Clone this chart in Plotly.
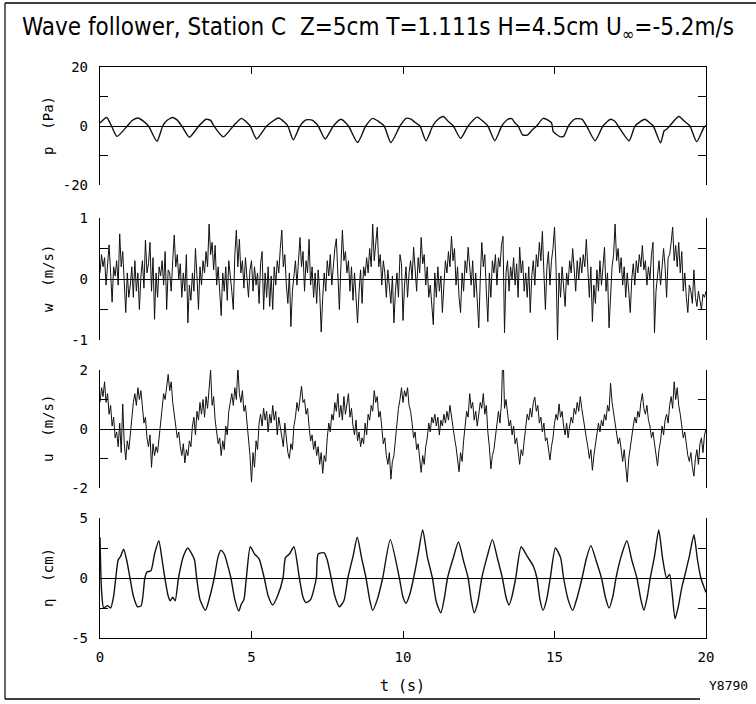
import plotly.graph_objects as go

# ---------------- data ----------------
p_t = [0.0,0.22,0.38,0.56,0.9,1.05,1.25,1.45,1.6,1.88,2.07,2.2,2.4,2.55,2.7,2.95,3.26,3.5,3.65,3.76,
       4.07,4.4,4.67,4.85,4.96,5.17,5.5,5.89,6.1,6.2,6.38,6.6,6.8,7.0,7.2,7.43,7.7,7.95,8.2,8.5,
       8.77,9.0,9.2,9.38,9.6,9.9,10.1,10.25,10.4,10.56,10.76,10.98,11.15,11.33,11.5,11.66,11.9,12.15,12.45,12.65,
       12.8,13.03,13.26,13.45,13.59,13.7,13.8,13.95,14.1,14.25,14.41,14.63,14.9,14.96,15.18,15.3,15.46,15.68,15.9,16.06,
       16.34,16.6,16.85,17.0,17.1,17.46,17.66,17.98,18.15,18.26,18.5,18.62,18.7,18.8,19.1,19.3,19.47,19.69,19.93,20.0]
p_val = [1.0,2.9,0,-3.5,0,1.8,2.7,1.5,0,-5.2,0,1.8,2.9,2.0,0,-3.8,0,2.3,1.9,0,
         -3.7,0,2.6,1.2,0,-4.4,0,2.7,1.2,0,-4.7,0,2.1,2.0,0,-4.4,0,2.3,0,-5.6,
         0,2.6,1.5,0,-5.6,0,2.6,2.4,1.2,0,-5.0,0,2.2,3.2,1.5,0,-4.2,0,3.0,1.5,
         0,-5.0,0,2.2,2.5,1.0,0,-3.0,-3.1,-1.5,0,2.6,1.1,-1.9,-3.6,-3.5,0,2.4,2.3,0,
         -5.0,0,2.3,1.5,0,-5.0,0,2.3,1.0,0,-5.7,-1.6,-1.1,0,3.2,1.5,0,-5.3,-0.5,0.2]

eta_t = [0.0,0.05,0.12,0.25,0.35,0.45,0.52,0.6,0.68,0.78,0.88,0.99,1.1,1.24,1.36,1.48,1.55,1.68,1.8,1.94,
         2.05,2.14,2.25,2.32,2.4,2.48,2.59,2.75,2.9,3.05,3.12,3.19,3.3,3.48,3.62,3.77,3.9,3.99,4.1,4.2,
         4.32,4.45,4.58,4.66,4.75,4.83,4.96,5.1,5.25,5.42,5.55,5.7,5.86,6.04,6.12,6.25,6.4,6.58,6.7,6.8,
         6.95,7.14,7.2,7.4,7.5,7.63,7.75,7.9,8.05,8.18,8.35,8.49,8.64,8.78,8.9,9.0,9.15,9.33,9.58,9.88,
         10.0,10.1,10.22,10.35,10.5,10.65,10.8,10.97,11.1,11.25,11.37,11.47,11.65,11.83,12.0,12.15,12.25,12.35,12.47,12.6,
         12.78,12.95,13.12,13.28,13.4,13.5,13.6,13.72,13.9,14.1,14.3,14.42,14.52,14.62,14.74,14.86,15.03,15.2,15.3,15.45,
         15.6,15.75,15.91,16.05,16.2,16.38,16.55,16.68,16.8,16.92,17.03,17.2,17.39,17.55,17.72,17.85,17.95,18.06,18.16,18.3,
         18.44,18.57,18.7,18.8,18.88,18.98,19.1,19.2,19.28,19.45,19.6,19.72,19.83,20.0]
eta_val = [3.4,-1.0,-2.5,-2.3,-2.5,-1.5,0,1.5,1.8,2.4,1.5,0,-1.5,-2.4,-2.3,0,0.5,0.6,2.0,3.1,
           1.5,0,-1.5,-1.9,-1.6,-1.9,0,1.8,2.5,1.9,1.5,0,-1.8,-2.7,-1.6,0,1.8,2.3,2.0,1.2,
           0,-1.8,-2.75,-2.2,-1.8,0,2.6,2.0,1.6,0,-1.5,-2.25,-1.5,0,1.7,2.0,2.6,0,-1.6,-2.05,
           -1.8,0,2.0,2.1,1.5,0,-1.5,-2.4,-1.9,0,1.8,3.4,1.6,0,-1.8,-2.7,-1.8,0,3.2,0,
           -1.6,-2.1,-1.4,0,2.0,4.0,1.8,0,-2.0,-2.9,-1.6,0,1.6,3.0,1.4,0,-1.8,-2.9,-2.0,0,
           1.8,3.2,1.6,0,-1.6,-2.25,-1.5,0,2.6,1.8,1.0,0,-1.8,-2.7,-1.8,0,2.5,1.7,0,-1.8,
           -2.7,-1.6,0,1.6,2.7,1.4,0,-1.6,-2.5,-1.6,0,1.8,3.1,1.5,0,-1.8,-2.7,-1.6,0,1.8,
           4.0,1.6,0,0.3,-1.2,-3.4,-2.2,-0.8,0,1.8,3.6,1.5,0,-1.2]

dt = 0.05
w_val = [
 0.1,0.4,0.2,0.35,-0.1,0.25,0.56,0.1,-0.38,0.2,0.05,0.3,-0.1,0.74,0.2,0.45,-0.2,-0.55,0.1,-0.3,
 -0.1,0.2,-0.3,0.3,-0.2,0.1,-0.5,0.05,0.3,-0.15,0.64,0.1,0.25,0.6,-0.2,0.35,-0.66,0.1,-0.3,0.2,
 0.05,0.3,-0.1,0.45,-0.5,0.15,0.1,-0.2,0.3,0.72,0.2,0.4,0.0,0.25,-0.3,0.1,-0.2,0.4,-0.72,-0.1,
 -0.35,0.1,-0.2,0.5,0.05,-0.5,0.2,-0.1,0.3,0.1,0.45,0.2,0.9,0.4,0.6,0.15,0.55,-0.1,0.2,-0.3,
 -0.6,0.1,-0.2,0.2,-0.35,0.3,0.1,-0.2,-0.5,0.4,0.8,0.2,0.65,0.1,0.3,-0.15,0.35,0.0,-0.3,0.15,
 0.3,-0.2,0.2,-0.1,0.1,-0.4,0.25,0.45,-0.5,0.1,-0.3,0.2,-0.45,0.05,-0.5,0.2,-0.1,0.3,0.1,0.5,
 0.8,0.2,0.4,-0.1,-0.4,0.1,-0.78,-0.2,0.1,0.3,-0.1,0.25,0.68,0.2,0.45,-0.2,0.3,0.1,0.65,-0.1,
 0.2,-0.3,0.1,-0.4,0.15,-0.2,-0.87,-0.3,0.1,-0.2,0.3,0.05,0.4,-0.1,0.25,0.5,0.66,0.1,-0.5,0.2,
 0.8,0.3,0.45,0.1,0.3,-0.2,0.2,-0.35,0.1,-0.3,-0.72,-0.2,0.15,-0.4,0.2,0.05,0.35,0.1,0.5,0.2,
 0.9,0.3,0.6,0.85,0.2,0.4,-0.1,0.3,0.1,-0.3,0.15,-0.2,-0.4,0.05,-0.72,-0.2,0.1,-0.3,0.4,0.25,
 -0.68,-0.1,0.2,-0.3,0.1,0.3,0.0,0.52,0.2,-0.2,0.35,0.1,0.68,0.25,0.4,-0.1,0.2,-0.3,-0.1,-0.4,
 -0.75,0.1,-0.3,0.2,-0.2,0.05,-0.55,-0.1,0.3,0.1,0.45,0.2,0.7,0.3,0.5,-0.1,0.2,-0.3,-0.55,0.1,
 -0.2,0.3,0.1,0.52,0.2,-0.1,0.3,-0.3,0.1,-0.4,-0.8,0.0,0.6,0.2,0.4,-0.2,-0.7,0.1,-0.3,0.3,
 0.1,0.4,-0.1,0.35,0.2,0.55,0.7,-0.88,0.1,0.3,-0.2,0.2,0.0,0.35,-0.1,0.25,-0.3,0.52,0.1,0.3,
 -0.2,0.1,-0.3,0.2,-0.55,0.05,0.3,-0.1,0.4,0.2,0.6,0.3,0.78,0.1,-0.5,0.2,0.45,-0.1,0.3,0.5,
 0.85,0.2,-1.0,0.1,-0.3,0.2,-0.2,-0.45,0.1,-0.1,0.3,0.1,0.5,0.2,-0.2,0.3,0.0,0.35,0.1,0.4,
 0.2,0.65,0.1,-0.3,0.2,-0.7,-0.1,-0.4,0.15,-0.2,0.3,-0.1,0.2,0.52,-0.2,0.1,-0.8,-0.3,0.2,0.4,
 0.9,0.3,0.5,0.1,0.35,-0.1,0.2,-0.3,0.1,-0.2,-0.55,0.0,0.25,-0.1,0.3,0.1,0.4,0.2,0.55,0.15,
 0.3,-0.1,0.2,0.0,0.4,0.6,-0.88,-0.2,0.1,0.3,-0.1,0.25,0.5,0.2,-0.3,0.35,0.4,0.6,0.85,0.3,
 0.55,0.2,0.6,0.1,0.45,-0.2,0.1,-0.3,-0.55,-0.1,-0.2,-0.4,0.15,-0.3,-0.45,-0.2,-0.35,-0.5,-0.25,-0.3,
 -0.2]

u_val = [
 0.9,1.4,1.1,1.6,0.9,1.2,0.5,0.8,0.1,0.4,-0.3,-0.1,-0.6,0.2,-0.8,0.85,-0.5,-1.05,-0.4,-0.7,
 -0.2,0.5,0.9,1.2,0.8,1.4,1.0,1.3,0.6,0.2,0.4,-0.3,-0.6,-0.2,-1.3,-0.5,-0.9,-0.6,-0.8,-0.3,
 0.3,0.8,1.2,1.0,1.5,1.85,1.3,1.6,0.9,0.4,0.1,-0.3,-0.1,-0.6,-0.9,-0.5,-1.15,-0.7,-0.9,-0.4,
 -0.6,0.1,0.4,-0.2,0.6,0.3,0.9,0.5,1.0,0.4,1.1,0.7,1.3,2.0,0.8,1.1,0.3,-0.2,-0.5,-0.3,
 -0.9,-0.4,-0.7,0.1,-0.2,0.6,0.9,1.2,0.8,1.4,1.0,2.1,1.2,0.9,1.3,0.6,0.8,0.2,-0.3,-0.9,
 -1.8,-0.8,-1.3,-0.4,-0.7,0.2,0.5,0.1,0.7,0.3,0.6,-0.1,0.5,0.2,0.8,0.3,0.6,-0.2,0.4,0.1,
 -0.3,-0.6,0.2,-0.4,-0.8,-1.0,-0.5,-0.7,0.1,0.4,0.9,0.6,1.1,1.45,0.9,1.0,0.5,0.7,0.1,-0.4,
 -0.2,-0.7,-0.4,-0.9,-0.6,-1.2,-0.8,-1.5,-0.9,-1.1,-0.3,0.2,-0.1,0.5,0.3,0.9,0.6,1.2,0.4,0.8,
 0.3,1.1,0.5,0.8,1.2,0.4,0.7,0.1,-0.2,0.3,-0.4,-0.1,-0.6,-0.3,-0.5,0.2,-0.2,0.5,0.3,0.8,
 0.6,1.3,0.9,1.1,0.4,0.6,0.0,-0.5,-0.3,-0.9,-1.2,-0.8,-1.7,-1.1,-0.9,-0.4,0.3,0.7,1.0,1.4,
 0.9,1.3,1.1,1.4,0.8,0.6,0.2,-0.3,-0.1,-0.7,-0.5,-1.0,-1.47,-0.9,-1.2,-0.6,-0.3,0.2,-0.1,0.4,
 0.2,0.5,0.1,0.4,-0.2,0.3,0.1,0.5,0.2,0.6,0.3,0.8,0.4,0.1,-0.3,-0.6,-1.0,-1.45,-0.8,-1.1,
 -0.4,0.2,0.6,0.4,1.2,0.7,0.9,0.3,0.6,0.1,0.5,0.9,0.7,1.2,0.5,0.8,-0.1,-0.6,-1.35,-0.9,
 -0.7,-0.2,0.3,0.6,0.2,0.9,2.8,0.7,1.0,0.4,0.1,0.3,-0.2,0.1,-0.5,-0.3,-0.8,-1.2,-0.7,-0.9,
 -0.4,0.1,0.5,0.3,0.7,0.4,0.9,1.08,0.6,0.8,0.2,0.4,-0.1,0.2,-0.4,-0.3,-0.7,-1.05,-0.6,-0.3,
 0.2,0.5,0.3,0.85,0.4,0.6,0.1,-0.2,0.2,-0.3,0.1,0.4,0.2,0.7,0.5,0.9,0.6,1.1,0.7,0.3,
 0.1,-0.3,-0.6,-1.0,-0.7,-1.4,-0.9,-0.5,-0.1,0.2,-0.1,0.3,0.1,0.5,0.3,0.8,0.6,1.55,0.9,0.5,
 0.2,-0.2,-0.5,-0.3,-0.8,-1.1,-0.7,-1.3,-1.8,-1.0,-0.6,-0.2,0.1,0.4,0.2,0.6,0.4,0.9,1.2,0.7,
 0.5,0.8,0.3,0.1,-0.3,-0.1,-0.5,-0.8,-1.25,-0.7,-0.4,0.1,-0.2,0.3,0.5,0.2,0.8,1.1,0.7,1.6,
 1.0,1.4,0.8,0.5,0.1,-0.3,-0.1,-0.6,-0.9,-1.1,-0.8,-1.3,-1.6,-1.0,-0.7,-1.2,-0.5,-0.3,-0.8,-0.2,
 0.0]

t_grid = [round(i * dt, 2) for i in range(len(w_val))]

x_ticks = [0, 5, 10, 15, 20]
x_ticklabels = ["0", "5", "10", "15", "20"]
panels = [
    dict(name="p  (Pa)", rng=20, ticks=[-20, 0, 20], labels=["-20", "0", "20"], minor=[-10, 10]),
    dict(name="w  (m/s)", rng=1, ticks=[-1, 0, 1], labels=["-1", "0", "1"], minor=[-0.5, 0.5]),
    dict(name="u  (m/s)", rng=2, ticks=[-2, 0, 2], labels=["-2", "0", "2"], minor=[-1, 1]),
    dict(name="η  (cm)", rng=5, ticks=[-5, 0, 5], labels=["-5", "0", "5"], minor=[-2.5, 2.5]),
]
title_text = "Wave follower, Station C&nbsp;&nbsp;Z=5cm T=1.111s H=4.5cm U<sub>∞</sub>=-5.2m/s"

# ---------------- figure ----------------
W, H = 756, 704
L, R, T, B = 100, 50, 67, 66
PW, PH = W - L - R, H - T - B

def py(pix):  # pixel y (from top) -> paper y
    return (H - B - pix) / PH

def px(pix):  # pixel x -> paper x
    return (pix - L) / PW

panel_pix = [(67, 185), (218, 340), (370, 488), (518, 638)]

fig = go.Figure()
series = [(p_t, p_val, 1.4, "spline"), (t_grid, w_val, 1.0, "linear"),
          (t_grid, u_val, 1.0, "linear"), (eta_t, eta_val, 1.4, "spline")]
for i, (xs, ys, lw, shape) in enumerate(series):
    sfx = "" if i == 0 else str(i + 1)
    line = dict(color="#111", width=lw, shape=shape)
    if shape == "spline":
        line["smoothing"] = 0.6
    fig.add_trace(go.Scatter(x=xs, y=ys, mode="lines", line=line,
                             xaxis="x" + sfx, yaxis="y" + sfx, showlegend=False,
                             hoverinfo="skip"))

mono = "DejaVu Sans Mono, Liberation Mono, monospace"
layout = dict(width=W, height=H, margin=dict(l=L, r=R, t=T, b=B),
              paper_bgcolor="white", plot_bgcolor="white", showlegend=False)

for i, pnl in enumerate(panels):
    sfx = "" if i == 0 else str(i + 1)
    top, bot = panel_pix[i]
    xa = dict(domain=[0, 1], range=[0, 20], anchor="y" + sfx, showgrid=False,
              zeroline=False, fixedrange=True)
    if i == 0:
        xa.update(side="top", showline=True, linecolor="black", linewidth=1.3,
                  ticks="inside", ticklen=7, tickwidth=1.3, tickcolor="black",
                  tickvals=[5, 10, 15], showticklabels=False)
    elif i == 3:
        xa.update(showline=True, linecolor="black", linewidth=1.3,
                  ticks="inside", ticklen=7, tickwidth=1.3, tickcolor="black",
                  tickvals=x_ticks, ticktext=x_ticklabels, ticklabelstandoff=6,
                  tickfont=dict(family=mono, size=14, color="black"))
    else:
        xa.update(showline=False, ticks="", showticklabels=False)
    layout["xaxis" + sfx] = xa
    layout["yaxis" + sfx] = dict(
        domain=[py(bot), py(top)], range=[-pnl["rng"], pnl["rng"]], anchor="x" + sfx,
        showgrid=False, zeroline=True, zerolinecolor="black", zerolinewidth=1.3,
        showline=True, linecolor="black", linewidth=1.3, mirror="ticks",
        ticks="inside", ticklen=8, tickwidth=1.3, tickcolor="black",
        tickvals=pnl["ticks"], ticktext=pnl["labels"], ticklabelstandoff=8,
        minor=dict(tickvals=pnl["minor"], ticks="inside", ticklen=8, tickwidth=1.3,
                   tickcolor="black", showgrid=False),
        tickfont=dict(family=mono, size=14, color="black"), fixedrange=True)

fig.update_layout(**layout)

ann = []
for i, pnl in enumerate(panels):
    top, bot = panel_pix[i]
    ann.append(dict(text=pnl["name"], x=px(48), y=py((top + bot) / 2), xref="paper", yref="paper",
                    textangle=-90, showarrow=False, xanchor="center", yanchor="middle",
                    font=dict(family=mono, size=14, color="black")))
ann.append(dict(text=title_text, x=px(20), y=py(28), xref="paper", yref="paper", showarrow=False,
                xanchor="left", yanchor="middle",
                font=dict(family="Liberation Sans Narrow, DejaVu Sans Condensed, Liberation Sans", size=24, color="black")))
ann.append(dict(text="t (s)", x=px(402), y=py(686), xref="paper", yref="paper", showarrow=False,
                xanchor="center", yanchor="middle", font=dict(family=mono, size=15, color="black")))
ann.append(dict(text="Y8790", x=px(728), y=py(686), xref="paper", yref="paper", showarrow=False,
                xanchor="center", yanchor="middle", font=dict(family=mono, size=13, color="black")))
fig.update_layout(annotations=ann)

# scan frame
shapes = [
    dict(type="line", xref="paper", yref="paper", x0=px(5), x1=px(756), y0=py(3), y1=py(3),
         line=dict(color="black", width=1.5)),
    dict(type="line", xref="paper", yref="paper", x0=px(5), x1=px(5), y0=py(3), y1=py(699),
         line=dict(color="black", width=1.2)),
    dict(type="line", xref="paper", yref="paper", x0=px(5), x1=px(700), y0=py(699), y1=py(699),
         line=dict(color="black", width=1.5)),
]
fig.update_layout(shapes=shapes)

fig.write_html("out.html")
